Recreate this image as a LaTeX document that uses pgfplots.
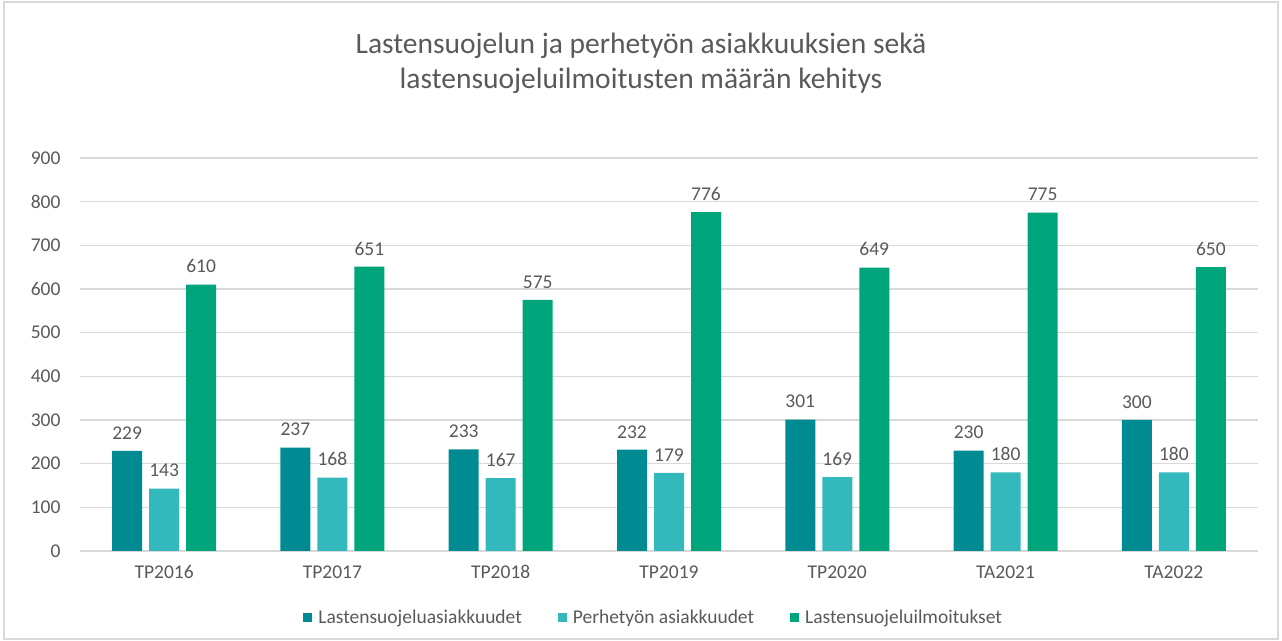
\documentclass[border=0pt]{standalone}
\usepackage{pgfplots}
\pgfplotsset{compat=1.18}
\usepackage{fontspec}
\setmainfont{Carlito}
\definecolor{cA}{HTML}{008A91}
\definecolor{cB}{HTML}{33B8BB}
\definecolor{cC}{HTML}{00A57B}
\definecolor{txt}{HTML}{595959}
\definecolor{gridc}{HTML}{D9D9D9}
\begin{document}
\begin{tikzpicture}[x=1bp,y=1bp]
\path[use as bounding box] (0,0) rectangle (1282,641);
\draw[gridc, line width=1.2bp] (4,2) rectangle (1278,639);
\node[text=txt, align=center, font=\fontsize{29.5bp}{35bp}\selectfont] at (641,578) {Lastensuojelun ja perhetyön asiakkuuksien sekä\\lastensuojeluilmoitusten määrän kehitys};
\begin{axis}[
  at={(80bp,90bp)}, anchor=south west,
  scale only axis, width=1178bp, height=393bp,
  ybar=7bp, bar width=30bp,
  xmin=-0.5, xmax=6.5, ymin=0, ymax=900,
  xtick=data, xticklabels={TP2016,TP2017,TP2018,TP2019,TP2020,TA2021,TA2022},
  ytick={0,100,...,900},
  axis line style={draw=none},
  major tick length=0,
  xmajorgrids=false,
  ymajorgrids=true, grid style={draw=gridc, line width=1.2bp},
  ticklabel style={text=txt, font=\fontsize{19.5bp}{22bp}\selectfont},
  /pgf/number format/assume math mode=true,
  xticklabel style={yshift=-11bp},
  yticklabel style={xshift=-16bp},
  nodes near coords,
  every node near coord/.append style={text=txt, font=\fontsize{19.5bp}{22bp}\selectfont, yshift=8bp},
  legend columns=3,
  legend style={at={(0.487,-0.17)}, anchor=center, draw=none, fill=none,
    font=\fontsize{19.5bp}{22bp}\selectfont, text=txt,
    /tikz/every even column/.append style={column sep=34bp}},
  legend image code/.code={\fill[#1] (0bp,-4.5bp) rectangle (9bp,4.5bp); \path (0bp,0bp) -- (13bp,0bp);},
]
\addplot[fill=cA, draw=none] coordinates {(0,229) (1,237) (2,233) (3,232) (4,301) (5,230) (6,300)};
\addplot[fill=cB, draw=none] coordinates {(0,143) (1,168) (2,167) (3,179) (4,169) (5,180) (6,180)};
\addplot[fill=cC, draw=none] coordinates {(0,610) (1,651) (2,575) (3,776) (4,649) (5,775) (6,650)};
\legend{Lastensuojeluasiakkuudet, Perhetyön asiakkuudet, Lastensuojeluilmoitukset}
\end{axis}
\end{tikzpicture}
\end{document}
